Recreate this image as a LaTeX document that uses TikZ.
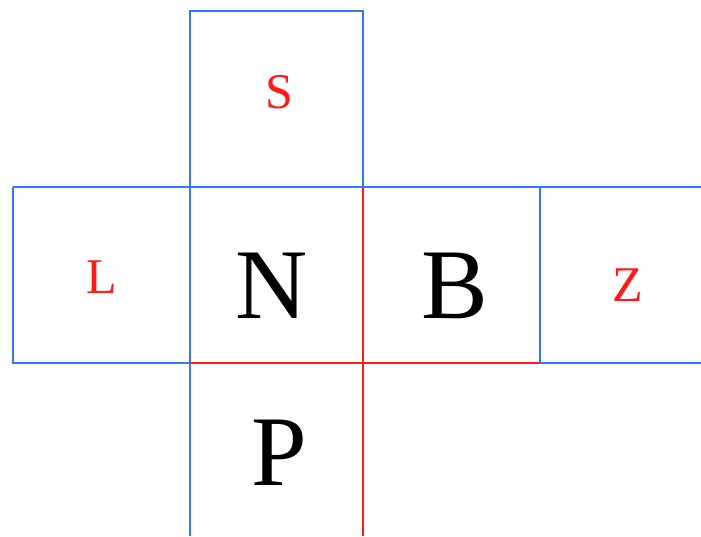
\documentclass[tikz,border=0pt]{standalone}
\usepackage{fontspec}
\setmainfont{Liberation Serif}
\definecolor{gblue}{RGB}{45,120,255}
\definecolor{gred}{RGB}{255,25,25}
\tikzset{
  bl/.style={draw=gblue, line width=2pt},
  rd/.style={draw=gred, line width=2pt},
  big/.style={font=\fontsize{100}{100}\selectfont, text=black, inner sep=0pt, anchor=base},
  small/.style={font=\fontsize{50}{50}\selectfont, text=gred, inner sep=0pt, anchor=base},
}
\begin{document}
\begin{tikzpicture}[x=1pt,y=1pt]
\useasboundingbox (0,0) rectangle (701,536);
% grid coordinates (y = 536 - image y)
\coordinate (a1) at (13,349);
\coordinate (a2) at (13,173);
\coordinate (b0) at (190,525);
\coordinate (b1) at (190,349);
\coordinate (b2) at (190,173);
\coordinate (b3) at (190,0);
\coordinate (c0) at (363,525);
\coordinate (c1) at (363,349);
\coordinate (c2) at (363,173);
\coordinate (c3) at (363,0);
\coordinate (d1) at (540,349);
\coordinate (d2) at (540,173);
\coordinate (e1) at (701,349);
\coordinate (e2) at (701,173);
% blue lines
\draw[bl] (b1) -- (b0) -- (c0) -- (c1);
\draw[bl] (a1) -- (e1);
\draw[bl] (a1) -- (a2) -- (b2);
\draw[bl] (b1) -- (b3);
\draw[bl] (d1) -- (d2) -- (e2);
% red lines
\draw[rd] (b2) -- (d2);
\draw[rd] (c1) -- (c3);
% labels
\node[big] (N) at (271.5,218) {N};
\node[big] (B) at (454.5,218) {B};
\node[big] (P) at (279.5,51) {P};
\node[small] (S) at (279,427) {S};
\node[small] (L) at (102,243) {L};
\node[small] (Z) at (628,234) {Z};
\end{tikzpicture}
\end{document}
